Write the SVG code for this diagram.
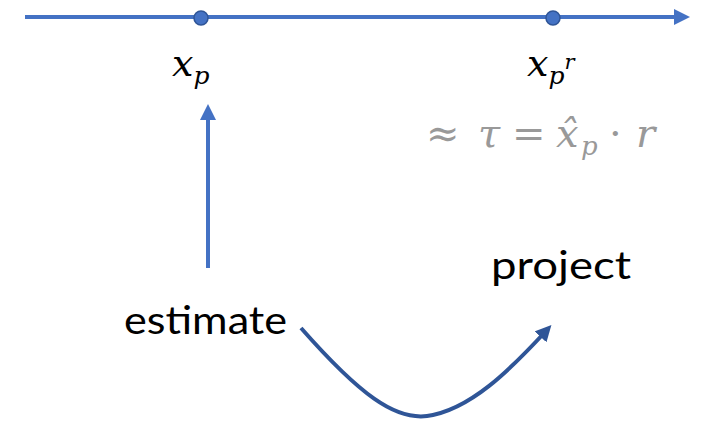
<svg xmlns="http://www.w3.org/2000/svg" width="703" height="421" viewBox="0 0 703 421">
<style>
.lbl{font-family:"Lato","Open Sans","Liberation Sans",sans-serif;font-size:38px;fill:#000}
.m{font-family:"DejaVu Serif",serif;font-style:italic;fill:#000}
.g{font-family:"DejaVu Serif",serif;fill:#999}
</style>
<defs>
<marker id="ah" markerWidth="4" markerHeight="4" refX="2" refY="2" orient="auto" markerUnits="strokeWidth"><path d="M0,0 L4,2 L0,4 Z" fill="#4472C4"/></marker>
<marker id="ah2" markerWidth="4" markerHeight="4" refX="2" refY="2" orient="auto" markerUnits="strokeWidth"><path d="M0,0 L4,2 L0,4 Z" fill="#2F5597"/></marker>
</defs>
<g id="connectors">
<line x1="25" y1="17" x2="682" y2="17" stroke="#4472C4" stroke-width="4" marker-end="url(#ah)"/>
<line x1="208" y1="268" x2="208" y2="112" stroke="#4472C4" stroke-width="4" marker-end="url(#ah)"/>
<path d="M301,328 C360,395 395,420 427,416 C470,410 510,370 546,331" fill="none" stroke="#2F5597" stroke-width="4" marker-end="url(#ah2)"/>
</g>
<g id="xp">
<circle cx="201" cy="18" r="7" fill="#4472C4" stroke="#2F5597" stroke-width="1.5"/>
<text class="m" x="172" y="76" font-size="38">x<tspan font-size="25" dy="8">p</tspan></text>
</g>
<g id="xpr">
<circle cx="553" cy="18" r="7" fill="#4472C4" stroke="#2F5597" stroke-width="1.5"/>
<text class="m" x="527" y="76" font-size="38">x<tspan font-size="25" dy="8">p</tspan><tspan font-size="21" dy="-15">r</tspan></text>
</g>
<g id="approx">
<text class="g" y="147" font-size="40"><tspan x="426">≈</tspan><tspan x="478" font-style="italic">τ</tspan><tspan x="512">=</tspan><tspan x="556" font-style="italic">x̂</tspan><tspan x="581" dy="8" font-style="italic" font-size="26">p</tspan><tspan x="609" dy="-8">·</tspan><tspan x="636" font-style="italic">r</tspan></text>
</g>
<g id="estimate"><text class="lbl" x="124" y="334" textLength="163" lengthAdjust="spacingAndGlyphs">estimate</text></g>
<g id="project"><text class="lbl" x="491" y="279" textLength="140" lengthAdjust="spacingAndGlyphs">project</text></g>
</svg>
